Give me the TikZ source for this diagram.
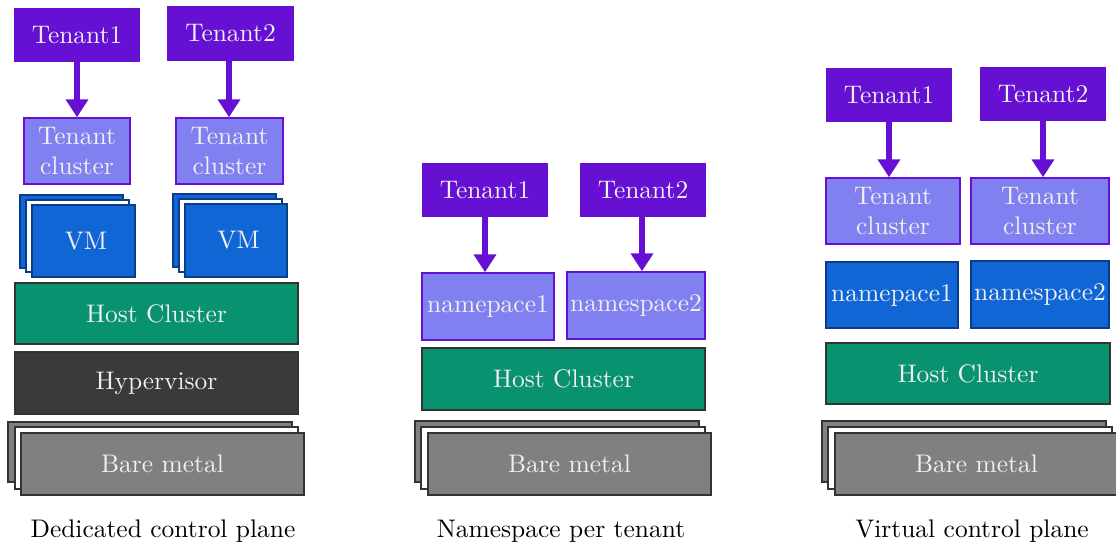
\documentclass[tikz,border=0pt]{standalone}
\usetikzlibrary{fit,arrows.meta}
\definecolor{tenantc}{RGB}{102,16,212}
\definecolor{clusterc}{RGB}{128,128,240}
\definecolor{vmc}{RGB}{17,102,214}
\definecolor{vmedge}{RGB}{10,60,138}
\definecolor{hostc}{RGB}{8,146,112}
\definecolor{hyperc}{RGB}{58,58,58}
\definecolor{metalc}{RGB}{128,128,128}
\definecolor{edgec}{RGB}{51,51,51}
\definecolor{inkc}{RGB}{240,240,240}
\tikzset{
  box/.style={rectangle, inner sep=0pt},
  boxtext/.style={text=inkc, align=center, inner sep=0pt},
  tenant/.style={box, fill=tenantc, draw=tenantc},
  tcluster/.style={box, fill=clusterc, draw=tenantc, line width=0.6pt},
  vm/.style={box, fill=vmc, draw=vmedge, line width=0.6pt},
  host/.style={box, fill=hostc, draw=edgec, line width=0.6pt},
  hyper/.style={box, fill=hyperc, draw=edgec, line width=0.6pt},
  metal/.style={box, fill=metalc, draw=edgec, line width=0.8pt},
  sheet/.style={box, fill=white, draw=edgec, line width=0.8pt},
  vmsheet/.style={box, fill=white, draw=vmedge, line width=0.6pt},
  flow/.style={draw=tenantc, line width=2pt, -{Triangle[length=7pt,width=8.5pt]}},
  caption/.style={text=black}
}
\begin{document}
\begin{tikzpicture}[x=0.393pt,y=-0.393pt]
\useasboundingbox (0,0) rectangle (1116,547);

% ---- Dedicated control plane ----
\node[tenant, fit={(15,9)(139,61)}] (dT1) {};
\node[boxtext] (dT1t) at (dT1.center) {Tenant1};
\node[tenant, fit={(168,7)(293,60)}] (dT2) {};
\node[boxtext] (dT2t) at (dT2.center) {Tenant2};
\node[tcluster, fit={(24,118)(130,184)}] (dC1) {};
\node[boxtext] (dC1t) at (dC1.center) {Tenant\\cluster};
\node[tcluster, fit={(176,118)(283,184)}] (dC2) {};
\node[boxtext] (dC2t) at (dC2.center) {Tenant\\cluster};
\node[vm, fit={(20,195)(123,268)}] (dVa1) {};
\node[vmsheet, fit={(26,200)(129,272)}] (dVb1) {};
\node[vm, fit={(32,205)(135,277)}] (dV1) {};
\node[boxtext] (dV1t) at ([xshift=1pt]dV1.center) {VM};
\node[vm, fit={(173,194)(276,267)}] (dVa2) {};
\node[vmsheet, fit={(179,199)(282,272)}] (dVb2) {};
\node[vm, fit={(185,204)(287,277)}] (dV2) {};
\node[boxtext] (dV2t) at ([xshift=1pt]dV2.center) {VM};
\node[host, fit={(15,283)(298,344)}] (dHost) {};
\node[boxtext] (dHostt) at (dHost.center) {Host Cluster};
\node[hyper, fit={(15,352)(298,414)}] (dHyp) {};
\node[boxtext] (dHypt) at (dHyp.center) {Hypervisor};
\node[metal, fit={(8,422)(292,482)}] (dMa) {};
\node[sheet, fit={(15,427)(298,489)}] (dMb) {};
\node[metal, fit={(21,433)(304,495)}] (dM) {};
\node[boxtext] (dMt) at (dM.center) {Bare metal};
\node[caption] (dCap) at (163,531) {Dedicated control plane};
\draw[flow] (dT1.south -| 77,0) -- (dC1.north -| 77,0);
\draw[flow] (dT2.south -| 229,0) -- (dC2.north -| 229,0);

% ---- Namespace per tenant ----
\node[tenant, fit={(423,164)(547,216)}] (nT1) {};
\node[boxtext] (nT1t) at (nT1.center) {Tenant1};
\node[tenant, fit={(581,164)(705,216)}] (nT2) {};
\node[boxtext] (nT2t) at (nT2.center) {Tenant2};
\node[tcluster, fit={(422,273)(554,340)}] (nN1) {};
\node[boxtext] (nN1t) at (nN1.center) {namepace1};
\node[tcluster, fit={(567,272)(705,339)}] (nN2) {};
\node[boxtext] (nN2t) at (nN2.center) {namespace2};
\node[host, fit={(422,348)(705,410)}] (nHost) {};
\node[boxtext] (nHostt) at (nHost.center) {Host Cluster};
\node[metal, fit={(415,421)(699,482)}] (nMa) {};
\node[sheet, fit={(421,427)(705,489)}] (nMb) {};
\node[metal, fit={(428,433)(711,495)}] (nM) {};
\node[boxtext] (nMt) at (nM.center) {Bare metal};
\node[caption] (nCap) at (561,531) {Namespace per tenant};
\draw[flow] (nT1.south -| 485,0) -- (nN1.north -| 485,0);
\draw[flow] (nT2.south -| 642,0) -- (nN2.north -| 642,0);

% ---- Virtual control plane ----
\node[tenant, fit={(827,69)(951,121)}] (vT1) {};
\node[boxtext] (vT1t) at (vT1.center) {Tenant1};
\node[tenant, fit={(981,68)(1105,120)}] (vT2) {};
\node[boxtext] (vT2t) at (vT2.center) {Tenant2};
\node[tcluster, fit={(826,178)(960,244)}] (vC1) {};
\node[boxtext] (vC1t) at (vC1.center) {Tenant\\cluster};
\node[tcluster, fit={(971,178)(1109,244)}] (vC2) {};
\node[boxtext] (vC2t) at (vC2.center) {Tenant\\cluster};
\node[vm, fit={(826,262)(958,328)}] (vN1) {};
\node[boxtext] (vN1t) at (vN1.center) {namepace1};
\node[vm, fit={(971,261)(1109,328)}] (vN2) {};
\node[boxtext] (vN2t) at (vN2.center) {namespace2};
\node[host, fit={(826,343)(1110,404)}] (vHost) {};
\node[boxtext] (vHostt) at (vHost.center) {Host Cluster};
\node[metal, fit={(822,421)(1106,482)}] (vMa) {};
\node[sheet, fit={(828,427)(1112,489)}] (vMb) {};
\node[metal, fit={(835,433)(1118,495)}] (vM) {};
\node[boxtext] (vMt) at (vM.center) {Bare metal};
\node[caption] (vCap) at (972,531) {Virtual control plane};
\draw[flow] (vT1.south -| 889,0) -- (vC1.north -| 889,0);
\draw[flow] (vT2.south -| 1043,0) -- (vC2.north -| 1043,0);
\end{tikzpicture}
\end{document}
